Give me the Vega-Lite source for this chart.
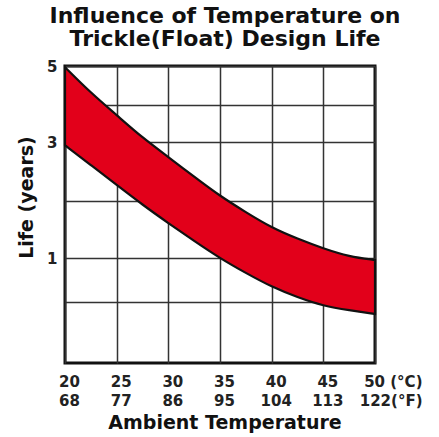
{
  "$schema": "https://vega.github.io/schema/vega-lite/v6.json",
  "autosize": {"type": "none"},
  "padding": {"left": 65, "top": 66, "right": 64, "bottom": 74},
  "width": 310,
  "height": 297,
  "background": "white",
  "title": {
    "text": ["Influence of Temperature on", "Trickle(Float) Design Life"],
    "font": "DejaVu Sans",
    "fontSize": 22,
    "fontWeight": "bold",
    "lineHeight": 23,
    "color": "#111",
    "anchor": "middle",
    "dx": 5,
    "offset": 8
  },
  "config": {
    "view": {"stroke": "#111", "strokeWidth": 3},
    "axis": {
      "domain": false,
      "ticks": false,
      "tickSize": 0,
      "gridColor": "#333",
      "gridWidth": 1.5,
      "gridOpacity": 1,
      "labelFont": "DejaVu Sans",
      "labelFontWeight": "bold",
      "labelFontSize": 15,
      "labelColor": "#222",
      "titleFont": "DejaVu Sans",
      "titleFontWeight": "bold",
      "titleFontSize": 19,
      "titleColor": "#111"
    }
  },
  "data": {
    "values": [
      {"c": 20, "hi": 4.97, "lo": 2.95},
      {"c": 22.5, "hi": 4.31, "lo": 2.61},
      {"c": 25, "hi": 3.73, "lo": 2.27},
      {"c": 27.5, "hi": 3.12, "lo": 1.93},
      {"c": 30, "hi": 2.75, "lo": 1.61},
      {"c": 32.5, "hi": 2.41, "lo": 1.3},
      {"c": 35, "hi": 2.08, "lo": 1.0},
      {"c": 37.5, "hi": 1.8, "lo": 0.83},
      {"c": 40, "hi": 1.53, "lo": 0.67},
      {"c": 42.5, "hi": 1.34, "lo": 0.55},
      {"c": 45, "hi": 1.17, "lo": 0.465},
      {"c": 47.5, "hi": 1.03, "lo": 0.43},
      {"c": 50, "hi": 0.98, "lo": 0.4}
    ]
  },
  "mark": {
    "type": "area",
    "interpolate": "basis",
    "fill": "#e2001a",
    "stroke": "#111",
    "strokeWidth": 2.2,
    "opacity": 1
  },
  "encoding": {
    "x": {
      "field": "c",
      "type": "quantitative",
      "scale": {"domain": [20, 50], "nice": false, "zero": false},
      "axis": {
        "values": [20, 25, 30, 35, 40, 45, 50],
        "labelExpr": "datum.value == 50 ? ['50 (°C)', '122(°F)'] : [datum.value + '', format(datum.value * 9 / 5 + 32, 'd')]",
        "labelBaseline": "alphabetic",
        "labelPadding": 23,
        "labelLineHeight": 19,
        "labelAlign": {"condition": {"test": "datum.value == 50", "value": "right"}, "value": "center"},
        "labelOffset": {"condition": {"test": "datum.value == 50", "value": 47}, "value": 4},
        "labelOverlap": false,
        "labelFlush": false,
        "title": "Ambient Temperature",
        "titleX": 159.5,
        "titleY": 65.5,
        "titleBaseline": "alphabetic",
        "titleAlign": "center"
      }
    },
    "y": {
      "field": "hi",
      "type": "quantitative",
      "scale": {
        "domain": [0, 0.5, 1, 2, 3, 4, 5],
        "range": [297, 235.7, 192.3, 134.7, 76.3, 39, 0],
        "nice": false,
        "zero": false
      },
      "axis": {
        "values": [0.5, 1, 2, 3, 4, 5],
        "labelExpr": "datum.value == 5 || datum.value == 3 || datum.value == 1 ? datum.value + '' : ''",
        "labelBaseline": "middle",
        "labelPadding": 8,
        "labelOverlap": false,
        "labelFlush": false,
        "title": "Life (years)",
        "titleAngle": -90,
        "titleX": -38.5,
        "titleY": 131,
        "titleBaseline": "middle",
        "titleAlign": "center"
      }
    },
    "y2": {"field": "lo"}
  }
}
